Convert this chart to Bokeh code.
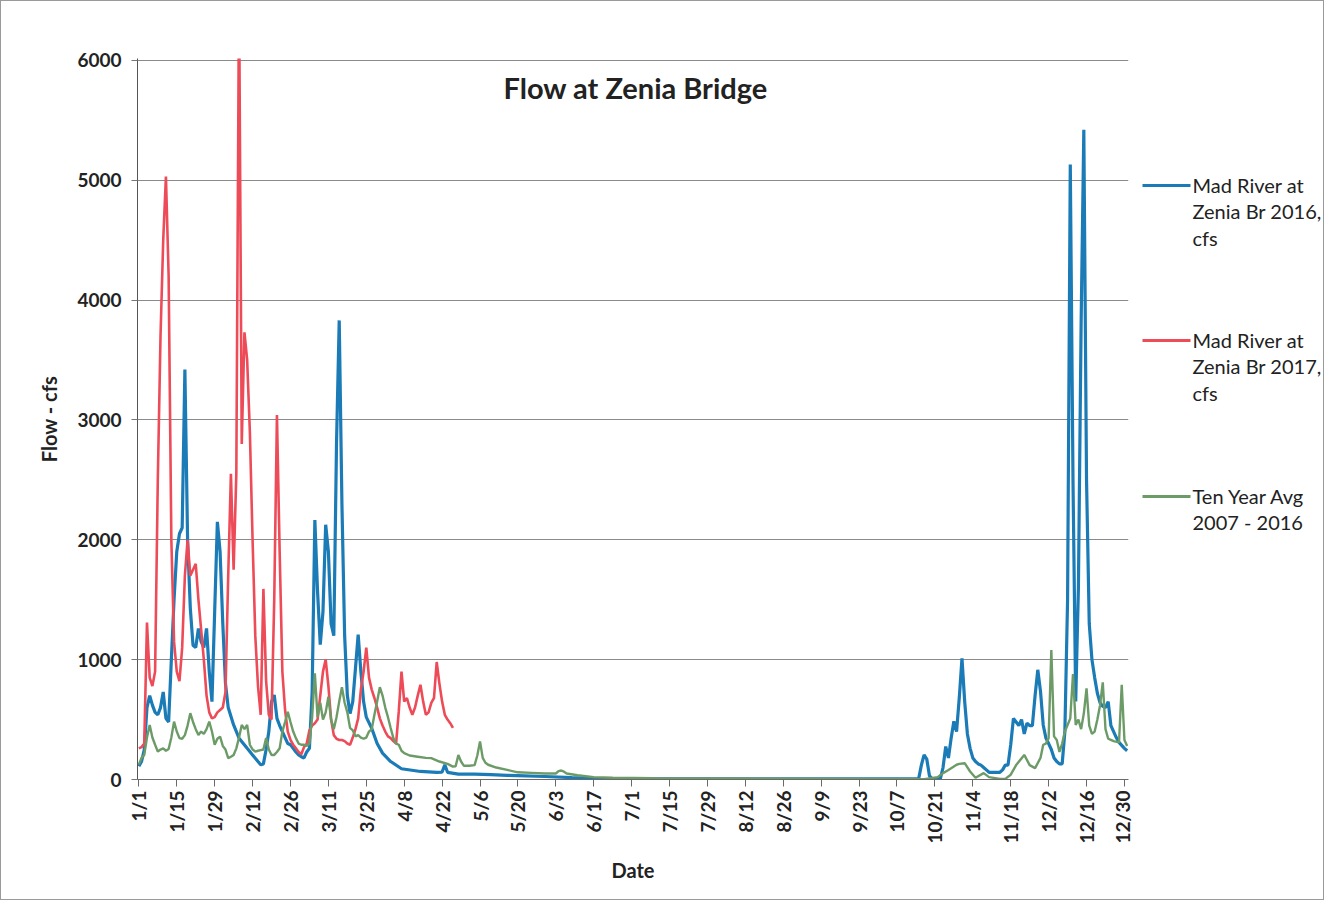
from bokeh.plotting import figure
from bokeh.layouts import row
from bokeh.models import Range1d, FixedTicker, Label
from bokeh.core.properties import value
from bokeh.embed import file_html
from bokeh.resources import INLINE

# ---------------- data (day of year, 0 = Jan 1) ----------------
tick_days = [0, 14, 28, 42, 56, 70, 84, 98, 112, 126, 140, 154, 168, 182, 196,
             210, 224, 238, 252, 266, 280, 294, 308, 322, 336, 350, 364]
tick_labels = ["1/1", "1/15", "1/29", "2/12", "2/26", "3/11", "3/25", "4/8", "4/22",
               "5/6", "5/20", "6/3", "6/17", "7/1", "7/15", "7/29", "8/12", "8/26",
               "9/9", "9/23", "10/7", "10/21", "11/4", "11/18", "12/2", "12/16", "12/30"]

days_2016 = [0, 1, 2, 3, 4, 5, 6, 7, 8, 9, 10, 11, 12, 13, 14, 15, 16, 17, 18, 19, 20,
             21, 22, 23, 24, 25, 26, 27, 28, 29, 30, 31, 32, 33, 35, 37, 40, 42, 44, 45,
             46, 47, 48, 49, 50, 51, 52, 53, 54, 55, 56, 57, 58, 59, 60, 61, 62, 63, 64,
             65, 66, 67, 68, 69, 70, 71, 72, 73, 74, 75, 76, 77, 78, 79, 80, 81, 82, 83,
             84, 86, 88, 90, 93, 97, 104, 110, 112, 113, 114, 118, 124, 130, 136, 140,
             150, 160, 168, 180, 200, 230, 260, 288, 289, 290, 291, 292, 293, 296, 297,
             298, 299, 300, 301, 302, 303, 304, 305, 306, 307, 308, 309, 310, 311, 312,
             313, 314, 316, 318, 319, 320, 321, 322, 323, 324, 325, 326, 327, 328, 329,
             330, 331, 332, 333, 334, 335, 336, 337, 338, 339, 340, 341, 342, 343, 344,
             345, 346, 347, 348, 349, 350, 351, 352, 353, 354, 355, 356, 357, 358, 359,
             360, 361, 362, 363, 364, 365]
flow_2016 = [110, 150, 250, 600, 700, 620, 560, 540, 600, 730, 510, 480, 1000, 1500,
             1900, 2050, 2100, 3420, 2000, 1430, 1120, 1100, 1260, 1150, 1100, 1260, 900,
             650, 1400, 2150, 1900, 1300, 800, 600, 455, 345, 260, 205, 150, 123,
             130, 250, 400, 650, 705, 510, 450, 400, 350, 300, 290, 260, 230, 205, 190,
             180, 230, 260, 730, 2165, 1567, 1125, 1400, 2125, 1900, 1300, 1200, 2800,
             3830, 2300, 1200, 700, 550, 650, 928, 1208, 900, 650, 520, 428, 300, 220,
             150, 90, 67, 60, 62, 123, 60, 45, 45, 40, 35, 33, 25, 15, 8, 6, 5, 5, 5, 5,
             120, 205, 170, 30, 5, 5, 100, 275, 180, 345, 485, 400, 680, 1010, 650, 380,
             260, 180, 150, 130, 120, 100, 80, 60, 60, 60, 80, 120, 120, 290, 510, 480,
             450, 500, 380, 470, 450, 450, 700, 915, 735, 455, 345, 300, 250, 180, 150,
             130, 130, 400, 1500, 5130, 2500, 650, 1600, 3800, 5420, 2500, 1300, 1000,
             850, 720, 640, 610, 600, 650, 450, 400, 350, 310, 285, 260, 240]

days_2017 = list(range(0, 117))
flow_2017 = [260, 270, 300, 1310, 850, 780, 900, 2500, 3700, 4500, 5030, 4200, 2000,
             1150, 900, 820, 1100, 1700, 2000, 1700, 1750, 1800, 1500, 1250, 1000, 700,
             560, 510, 520, 560, 580, 600, 730, 1700, 2550, 1750, 2550, 6600, 2800, 3730,
             3500, 2900, 2000, 1200, 780, 540, 1590, 820, 540, 500, 1500, 3040, 1900,
             900, 580, 400, 330, 290, 260, 230, 210, 270, 300, 410, 450, 470, 500, 700,
             900, 1000, 780, 500, 370, 340, 330, 330, 320, 300, 290, 350, 420, 510, 750,
             900, 1100, 850, 750, 680, 600, 510, 450, 400, 360, 345, 320, 300, 570, 900,
             650, 680, 600, 540, 600, 700, 790, 650, 540, 560, 640, 680, 980, 800, 650,
             540, 500, 470, 430]

days_avg = [0, 1, 2, 3, 4, 5, 6, 7, 8, 9, 10, 11, 12, 13, 14, 15, 16, 17, 18, 19, 20,
            21, 22, 23, 24, 25, 26, 27, 28, 29, 30, 31, 32, 33, 34, 35, 36, 37, 38, 39,
            40, 41, 42, 43, 44, 45, 46, 47, 48, 49, 50, 51, 52, 53, 54, 55, 56, 57, 58,
            59, 60, 61, 62, 63, 64, 65, 66, 67, 68, 69, 70, 71, 72, 73, 74, 75, 76, 77,
            78, 79, 80, 81, 82, 83, 84, 85, 86, 87, 88, 89, 90, 91, 92, 93, 94, 95, 96,
            97, 98, 100, 103, 106, 108, 111, 114, 116, 117, 118, 119, 120, 122, 124, 125,
            126, 127, 128, 129, 132, 136, 140, 145, 150, 154, 155, 156, 157, 158, 162,
            168, 175, 190, 220, 260, 290, 295, 297, 299, 302, 303, 305, 307, 309, 312,
            314, 318, 320, 322, 324, 327, 329, 331, 333, 334, 335, 336, 337, 338, 339,
            340, 341, 342, 343, 344, 345, 346, 347, 348, 349, 350, 351, 352, 353, 354,
            355, 356, 357, 358, 359, 360, 362, 363, 364, 365]
flow_avg = [125, 180, 205, 350, 455, 350, 290, 233, 250, 260, 240, 255, 350, 483, 400,
            345, 340, 370, 450, 553, 480, 420, 372, 400, 380, 420, 483, 400, 290, 340,
            358, 280, 250, 178, 190, 205, 260, 350, 455, 420, 455, 290, 250, 233, 240,
            245, 250, 345, 250, 205, 205, 230, 260, 400, 480, 565, 480, 400, 345, 300,
            290, 290, 280, 300, 520, 886, 520, 640, 500, 560, 690, 500, 420, 520, 650,
            770, 640, 560, 430, 410, 360, 370, 350, 340, 350, 400, 420, 540, 650, 770,
            700, 600, 520, 430, 345, 300, 290, 240, 220, 200, 190, 180, 178, 150, 130,
            108, 110, 205, 150, 115, 115, 120, 200, 317, 180, 140, 123, 100, 80, 60, 55,
            50, 50, 70, 75, 65, 50, 35, 20, 15, 10, 8, 5, 3, 20, 53, 80, 123, 130, 136,
            67, 15, 53, 20, 5, 5, 40, 120, 205, 120, 95, 180, 290, 300, 345, 1080, 360,
            330, 230, 300, 400, 455, 510, 880, 455, 500, 420, 550, 760, 450, 380, 400,
            500, 620, 810, 420, 340, 330, 320, 310, 790, 330, 280]

series_names = ["Mad River at\nZenia Br 2016,\ncfs",
                "Mad River at\nZenia Br 2017,\ncfs",
                "Ten Year Avg\n2007 - 2016"]
series_colors = ["#1b7bb6", "#ee4b58", "#6d9b68"]

# ---------------- main chart ----------------
FONT = "Lato"
TOP, BOTTOM, H = 57, 120, 898
p = figure(width=1132, height=H, output_backend="svg", toolbar_location=None,
           x_range=Range1d(-0.5, 365.5), y_range=Range1d(0, 6015),
           min_border_left=136, min_border_right=5, min_border_top=TOP,
           min_border_bottom=BOTTOM, background_fill_color="white",
           border_fill_color="white", outline_line_color=None)

p.line(days_2016, flow_2016, line_color=series_colors[0], line_width=3.2)
p.line(days_2017, flow_2017, line_color=series_colors[1], line_width=2.6)
p.line(days_avg, flow_avg, line_color=series_colors[2], line_width=2.4)

p.xaxis.ticker = FixedTicker(ticks=tick_days)
p.xaxis.major_label_overrides = {d: l for d, l in zip(tick_days, tick_labels)}
p.xaxis.major_label_orientation = 3.14159265 / 2
p.xaxis.minor_tick_line_color = None
p.xaxis.major_tick_out = 7
p.xaxis.major_tick_in = 0
p.xaxis.major_label_standoff = 4
p.xaxis.axis_line_color = "#6a6a6a"
p.xaxis.major_tick_line_color = "#6a6a6a"
p.xaxis.axis_label = "Date"
p.xaxis.axis_label_standoff = 12

p.yaxis.ticker = FixedTicker(ticks=[0, 1000, 2000, 3000, 4000, 5000, 6000])
p.yaxis.minor_tick_line_color = None
p.yaxis.major_tick_out = 6
p.yaxis.major_tick_in = 0
p.yaxis.major_label_standoff = 10
p.yaxis.axis_line_color = "#555555"
p.yaxis.major_tick_line_color = "#777777"
p.yaxis.axis_label = "Flow - cfs"
p.yaxis.axis_label_standoff = 13

for ax in (p.xaxis, p.yaxis):
    ax.major_label_text_font = FONT
    ax.major_label_text_font_style = "bold"
    ax.major_label_text_font_size = "19px"
    ax.major_label_text_color = "#222222"
    ax.axis_label_text_font = FONT
    ax.axis_label_text_font_style = "bold"
    ax.axis_label_text_font_size = "20px"
    ax.axis_label_text_color = "#222222"

p.xgrid.grid_line_color = None
p.ygrid.grid_line_color = "#8a8a8a"
p.ygrid.grid_line_width = 1

p.add_layout(Label(x=183.5, y=5770, text="Flow at Zenia Bridge", text_align="center",
                   text_baseline="middle", text_font=FONT, text_font_style="bold",
                   text_font_size="29px", text_color="#222222"))

# ---------------- legend panel (pixels below the frame top, y down) ----------------
FRAME_H = H - TOP - BOTTOM
leg = figure(width=190, height=H, output_backend="svg", toolbar_location=None,
             x_range=Range1d(0, 190), y_range=Range1d(FRAME_H, 0),
             min_border_left=0, min_border_right=0, min_border_top=TOP,
             min_border_bottom=BOTTOM, outline_line_color=None,
             background_fill_color="white", border_fill_color="white")
leg.axis.visible = False
leg.grid.visible = False

item_tops = [126, 281, 437]   # centre of first text line, pixels below frame top
line_gap = 26.5
for name, color, top in zip(series_names, series_colors, item_tops):
    lines = name.split("\n")
    leg.line([9, 57], [top + 1, top + 1], line_color=color, line_width=3.2)
    leg.text(x=[59] * len(lines), y=[top + i * line_gap for i in range(len(lines))],
             text=lines, text_baseline="middle", text_align="left",
             text_font=value(FONT), text_font_size="20px", text_color="#222222")

layout = row(p, leg, spacing=0, styles={"border": "1px solid #9a9a9a"})

open("out.html", "w").write(file_html(layout, INLINE))
